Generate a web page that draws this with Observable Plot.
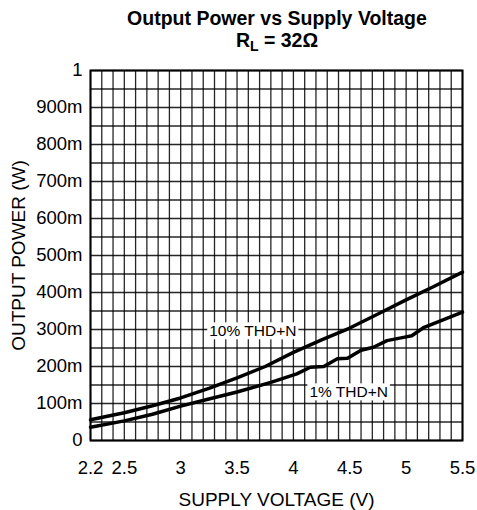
<!DOCTYPE html>
<html>
<head>
<meta charset="utf-8">
<script src="https://cdn.jsdelivr.net/npm/d3@7"></script>
<script src="https://cdn.jsdelivr.net/npm/@observablehq/plot@0.6"></script>
<style>
  html, body { margin: 0; padding: 0; background: #fff; }
  svg { font-family: "Liberation Sans", Arial, sans-serif; }
</style>
</head>
<body>
<div id="chart"></div>
<script>
// ---- data ----
const voltage10 = [2.2, 2.5, 2.75, 3.0, 3.25, 3.5, 3.75, 4.0, 4.25, 4.5, 4.75, 5.0, 5.25, 5.5];
const power10   = [0.056, 0.075, 0.094, 0.115, 0.141, 0.169, 0.200, 0.238, 0.272, 0.304, 0.342, 0.380, 0.417, 0.455];

const voltage1 = [2.2, 2.5, 2.75, 3.0, 3.25, 3.5, 3.8, 4.03, 4.15, 4.27, 4.39, 4.48, 4.6, 4.71, 4.83, 5.0, 5.05, 5.16, 5.5];
const power1   = [0.036, 0.053, 0.071, 0.093, 0.112, 0.131, 0.157, 0.180, 0.198, 0.200, 0.221, 0.222, 0.244, 0.252, 0.270, 0.280, 0.283, 0.306, 0.347];

const xTicks = [2.2, 2.5, 3, 3.5, 4, 4.5, 5, 5.5];
const xTickLabels = ["2.2", "2.5", "3", "3.5", "4", "4.5", "5", "5.5"];
const yTicks = [0, 0.1, 0.2, 0.3, 0.4, 0.5, 0.6, 0.7, 0.8, 0.9, 1];
const yTickLabels = ["0", "100m", "200m", "300m", "400m", "500m", "600m", "700m", "800m", "900m", "1"];

const curveLabels = ["10% THD+N", "1% THD+N"];
const labelVoltage = [3.64, 4.49];
const labelPower = [0.295, 0.13];

// grid steps (0.1 V and 50 mW)
const gridV = d3.range(0, 34).map(i => +(2.2 + i * 0.1).toFixed(2));
const gridP = d3.range(0, 21).map(i => +(i * 0.05).toFixed(2));

const series = [
  ...voltage10.map((v, i) => ({v, p: power10[i], s: "10%"})),
  ...voltage1.map((v, i) => ({v, p: power1[i], s: "1%"}))
];
const labels = curveLabels.map((t, i) => ({t, v: labelVoltage[i], p: labelPower[i]}));

const font = "'Liberation Sans', Arial, sans-serif";

const plot = Plot.plot({
  width: 477,
  height: 510,
  marginTop: 70,
  marginLeft: 90,
  marginRight: 15,
  marginBottom: 70,
  style: {fontFamily: font, fontSize: "18.5px", background: "#fff", overflow: "visible"},
  x: {domain: [2.2, 5.5]},
  y: {domain: [0, 1]},
  marks: [
    Plot.ruleX(gridV, {stroke: "#000", strokeOpacity: 0.85, strokeWidth: 1.3}),
    Plot.ruleY(gridP, {stroke: "#000", strokeOpacity: 0.85, strokeWidth: 1.3}),
    Plot.line(series, {x: "v", y: "p", z: "s", stroke: "#000", strokeWidth: 3.5, strokeLinejoin: "round"}),
    Plot.text(labels, {x: "v", y: "p", text: "t", fontSize: 15.5, fill: "#000", className: "curve-label", fontFamily: font}),
    Plot.frame({stroke: "#000", strokeWidth: 2}),
    Plot.axisX({ticks: xTicks, tickFormat: (d) => xTickLabels[xTicks.indexOf(d)], tickSize: 0, tickPadding: 20,
      label: null, fontSize: 18.5}),
    Plot.axisX({ticks: [], tickSize: 0, label: "SUPPLY VOLTAGE (V)", labelArrow: "none", labelAnchor: "center", labelOffset: 65, fontSize: 19}),
    Plot.axisY({ticks: yTicks, tickFormat: (d) => yTickLabels[yTicks.indexOf(d)], tickSize: 0, tickPadding: 8,
      label: null, fontSize: 18.5}),
    Plot.axisY({ticks: [], tickSize: 0, label: "OUTPUT POWER (W)", labelArrow: "none", labelAnchor: "center", labelOffset: 79, fontSize: 19})
  ]
});

document.getElementById("chart").appendChild(plot);

// white boxes behind the curve labels
const svg = d3.select(plot.tagName.toLowerCase() === "svg" ? plot : plot.querySelector("svg"));
svg.selectAll("g.curve-label text").each(function() {
  const b = this.getBBox();
  const g = this.parentNode;
  const t = this.getAttribute("transform");
  const r = document.createElementNS("http://www.w3.org/2000/svg", "rect");
  r.setAttribute("x", b.x - 2);
  r.setAttribute("y", b.y);
  r.setAttribute("width", b.width + 4);
  r.setAttribute("height", b.height);
  r.setAttribute("fill", "#fff");
  if (t) r.setAttribute("transform", t);
  g.insertBefore(r, this);
});

// title
svg.append("text")
  .attr("x", 277).attr("y", 25)
  .attr("text-anchor", "middle")
  .style("font", "bold 19.5px " + font)
  .text("Output Power vs Supply Voltage");
const sub = svg.append("text")
  .attr("x", 277).attr("y", 46.5)
  .attr("text-anchor", "middle")
  .style("font", "bold 19.5px " + font);
sub.append("tspan").text("R");
sub.append("tspan").attr("dy", 4).style("font-size", "14px").text("L");
sub.append("tspan").attr("dy", -4).text(" = 32Ω");
</script>
</body>
</html>
